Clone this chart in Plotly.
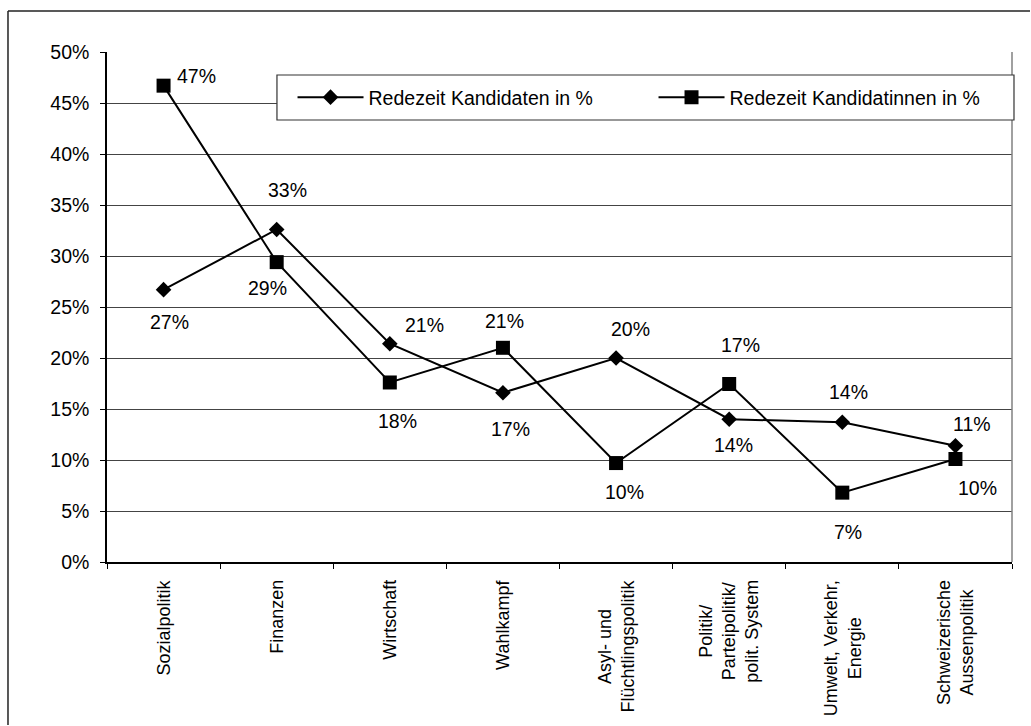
import plotly.graph_objects as go

# Themen (Kategorien) und Redezeit-Anteile in Prozent
themen = [
    "Sozialpolitik",
    "Finanzen",
    "Wirtschaft",
    "Wahlkampf",
    "Asyl- und<br>Flüchtlingspolitik",
    "Politik/<br>Parteipolitik/<br>polit. System",
    "Umwelt, Verkehr,<br>Energie",
    "Schweizerische<br>Aussenpolitik",
]
kandidaten = [26.7, 32.6, 21.4, 16.6, 20.0, 14.0, 13.7, 11.4]
kandidatinnen = [46.7, 29.4, 17.6, 21.0, 9.7, 17.45, 6.8, 10.1]

y_ticks = [0, 5, 10, 15, 20, 25, 30, 35, 40, 45, 50]
y_ticktext = [f"{v}%" for v in y_ticks]

# Versatz der Datenbeschriftungen (Pixel) relativ zum Punkt
off_kandidaten = [(6, -32), (11, 39), (35, 19), (8, -36), (14, 29), (4, -26), (6, 30), (17, 22)]
off_kandidatinnen = [(33, 10), (-9, -26), (8, -39), (2, 27), (8, -29), (11, 39), (6, -39), (22, -29)]

FONT = "Liberation Sans, Arial, sans-serif"
x_idx = list(range(len(themen)))

fig = go.Figure()
fig.add_trace(go.Scatter(
    x=x_idx, y=kandidaten, mode="lines+markers",
    name="Redezeit Kandidaten in %",
    line=dict(color="black", width=2),
    marker=dict(symbol="diamond", size=12, color="black"),
))
fig.add_trace(go.Scatter(
    x=x_idx, y=kandidatinnen, mode="lines+markers",
    name="Redezeit Kandidatinnen in %",
    line=dict(color="black", width=2),
    marker=dict(symbol="square", size=14, color="black"),
))

annotations = []
for vals, offs in ((kandidaten, off_kandidaten), (kandidatinnen, off_kandidatinnen)):
    for i, (v, (dx, dy)) in enumerate(zip(vals, offs)):
        annotations.append(dict(
            x=i, y=v, xref="x", yref="y", text=f"{v:.0f}%", showarrow=False,
            xshift=dx, yshift=dy, font=dict(size=19.5, color="black", family=FONT),
        ))

# Kategorienbeschriftungen, senkrecht gedreht, zeilenweise zentriert
for i, t in enumerate(themen):
    annotations.append(dict(
        x=i, y=0, xref="x", yref="paper", text=t, showarrow=False,
        textangle=-90, xanchor="center", yanchor="top", yshift=-16,
        align="center", font=dict(size=18, color="black", family=FONT),
    ))

frame = dict(color="#222222", width=1.5)
shapes = [
    # Diagrammrahmen: obere und linke Kante (bis an den Bildrand)
    dict(type="line", xref="paper", yref="paper", x0=-0.1094, x1=1.0199, y0=1.0804, y1=1.0804, line=frame),
    dict(type="line", xref="paper", yref="paper", x0=-0.1094, x1=-0.1094, y0=1.0804, y1=-0.3196, line=frame),
    # rechter Rand der Zeichenfläche
    dict(type="line", xref="paper", yref="paper", x0=1, x1=1, y0=0, y1=1,
         line=dict(color="#808080", width=1.5)),
    # Legendenkasten
    dict(type="rect", xref="paper", yref="paper", x0=0.1878, x1=1.0022, y0=0.8667, y1=0.9549,
         line=dict(color="#333333", width=1.2), fillcolor="white", layer="above"),
]

fig.update_layout(
    width=1031, height=726,
    margin=dict(l=107, r=19, t=52, b=164),
    paper_bgcolor="white", plot_bgcolor="white",
    font=dict(family=FONT, color="black", size=19.5),
    showlegend=True,
    legend=dict(
        orientation="h", x=0.205, y=0.9108, xanchor="left", yanchor="middle",
        bgcolor="rgba(0,0,0,0)", borderwidth=0, font=dict(size=19.5, family=FONT),
        itemwidth=66, entrywidth=280, entrywidthmode="pixels",
    ),
    annotations=annotations,
    shapes=shapes,
    xaxis=dict(
        range=[-0.5, len(themen) - 0.5], tickvals=[i - 0.5 for i in range(len(themen) + 1)],
        showticklabels=False, ticks="outside", ticklen=5, tickcolor="black", tickwidth=1,
        showline=True, linecolor="black", linewidth=1.5, showgrid=False, zeroline=False,
    ),
    yaxis=dict(
        range=[0, 50], tickvals=y_ticks, ticktext=y_ticktext,
        ticks="outside", ticklen=5, tickcolor="black", tickwidth=1,
        showline=True, linecolor="black", linewidth=1.5,
        showgrid=True, gridcolor="#444444", gridwidth=1, zeroline=False,
        ticklabelstandoff=7, tickfont=dict(size=19.5, family=FONT),
    ),
)

fig.write_html("out.html")
